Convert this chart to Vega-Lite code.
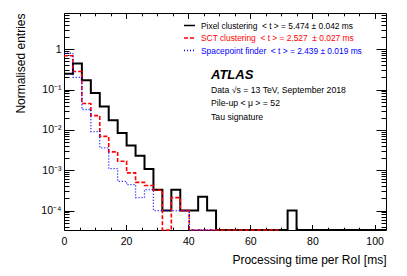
{
  "$schema": "https://vega.github.io/schema/vega-lite/v6.json",
  "width": 322,
  "height": 217,
  "autosize": {"type": "none"},
  "padding": {"left": 64, "top": 13, "right": 21, "bottom": 46},
  "background": "white",
  "config": {
    "view": {"stroke": "#000000", "strokeWidth": 1},
    "font": "Liberation Sans",
    "axis": {"labelFont": "Liberation Sans", "titleFont": "Liberation Sans", "labelColor": "#000000", "titleColor": "#000000", "tickColor": "#000000", "grid": false, "domain": false, "labelFlush": false, "labelOverlap": false, "titleFontWeight": "normal"}
  },
  "title": {
    "text": "ATLAS",
    "subtitle": ["Data √s = 13 TeV, September 2018", "Pile-up < μ > = 52", "Tau signature"],
    "anchor": "start",
    "frame": "group",
    "orient": "top",
    "offset": 0,
    "dx": 147,
    "dy": 109,
    "font": "Liberation Sans",
    "fontSize": 13,
    "fontStyle": "italic",
    "fontWeight": "bold",
    "color": "#000000",
    "subtitleFont": "Liberation Sans",
    "subtitleFontSize": 8.7,
    "subtitleColor": "#000000",
    "subtitlePadding": 4,
    "subtitleLineHeight": 13.6
  },
  "data": {
    "values": [
      {"s": "Pixel clustering", "t": 0, "v": 0.248},
      {"s": "Pixel clustering", "t": 2.88, "v": 0.445},
      {"s": "Pixel clustering", "t": 5.76, "v": 0.169},
      {"s": "Pixel clustering", "t": 8.64, "v": 0.082},
      {"s": "Pixel clustering", "t": 11.52, "v": 0.038},
      {"s": "Pixel clustering", "t": 14.4, "v": 0.0173},
      {"s": "Pixel clustering", "t": 17.28, "v": 0.0084},
      {"s": "Pixel clustering", "t": 20.16, "v": 0.0041},
      {"s": "Pixel clustering", "t": 23.04, "v": 0.0023},
      {"s": "Pixel clustering", "t": 25.92, "v": 0.00108},
      {"s": "Pixel clustering", "t": 28.8, "v": 0.00033},
      {"s": "Pixel clustering", "t": 31.68, "v": 0.0001},
      {"s": "Pixel clustering", "t": 34.56, "v": 0.00033},
      {"s": "Pixel clustering", "t": 37.44, "v": 0.0001},
      {"s": "Pixel clustering", "t": 40.32, "v": 0.0001},
      {"s": "Pixel clustering", "t": 43.2, "v": 0.00022},
      {"s": "Pixel clustering", "t": 46.08, "v": 0.0001},
      {"s": "Pixel clustering", "t": 48.96, "v": 0.000001},
      {"s": "Pixel clustering", "t": 72, "v": 0.0001},
      {"s": "Pixel clustering", "t": 74.88, "v": 0.000001},
      {"s": "Pixel clustering", "t": 103.68, "v": 0.000001},
      {"s": "SCT clustering", "t": 0, "v": 0.69},
      {"s": "SCT clustering", "t": 2.88, "v": 0.28},
      {"s": "SCT clustering", "t": 5.76, "v": 0.045},
      {"s": "SCT clustering", "t": 8.64, "v": 0.0226},
      {"s": "SCT clustering", "t": 11.52, "v": 0.0069},
      {"s": "SCT clustering", "t": 14.4, "v": 0.00285},
      {"s": "SCT clustering", "t": 17.28, "v": 0.00167},
      {"s": "SCT clustering", "t": 20.16, "v": 0.00086},
      {"s": "SCT clustering", "t": 23.04, "v": 0.0005},
      {"s": "SCT clustering", "t": 25.92, "v": 0.00042},
      {"s": "SCT clustering", "t": 28.8, "v": 0.00032},
      {"s": "SCT clustering", "t": 31.68, "v": 0.000001},
      {"s": "SCT clustering", "t": 34.56, "v": 0.00021},
      {"s": "SCT clustering", "t": 37.44, "v": 0.0001},
      {"s": "SCT clustering", "t": 40.32, "v": 0.000001},
      {"s": "SCT clustering", "t": 69.12, "v": 0.000001},
      {"s": "Spacepoint finder", "t": 0, "v": 0.8},
      {"s": "Spacepoint finder", "t": 2.88, "v": 0.2},
      {"s": "Spacepoint finder", "t": 5.76, "v": 0.032},
      {"s": "Spacepoint finder", "t": 8.64, "v": 0.0091},
      {"s": "Spacepoint finder", "t": 11.52, "v": 0.0036},
      {"s": "Spacepoint finder", "t": 14.4, "v": 0.0011},
      {"s": "Spacepoint finder", "t": 17.28, "v": 0.00053},
      {"s": "Spacepoint finder", "t": 20.16, "v": 0.00044},
      {"s": "Spacepoint finder", "t": 23.04, "v": 0.00021},
      {"s": "Spacepoint finder", "t": 25.92, "v": 0.00033},
      {"s": "Spacepoint finder", "t": 28.8, "v": 0.0001},
      {"s": "Spacepoint finder", "t": 31.68, "v": 0.0001},
      {"s": "Spacepoint finder", "t": 34.56, "v": 0.0001},
      {"s": "Spacepoint finder", "t": 37.44, "v": 0.0001},
      {"s": "Spacepoint finder", "t": 40.32, "v": 0.000001},
      {"s": "Spacepoint finder", "t": 48.96, "v": 0.000001}
    ]
  },
  "encoding": {
    "color": {
      "field": "s", "type": "nominal",
      "scale": {"domain": ["Pixel clustering", "SCT clustering", "Spacepoint finder"], "range": ["#000000", "#ff0000", "#0000ff"]},
      "legend": {
        "orient": "none", "legendX": 119, "legendY": 6, "title": null, "padding": 0,
        "symbolType": "stroke", "symbolSize": 121, "symbolStrokeWidth": 1.5,
        "labelFont": "Liberation Sans", "labelFontSize": 8.4, "labelOffset": 5, "rowPadding": 1.5, "labelLimit": 0,
        "labelExpr": "datum.value == 'Pixel clustering' ? 'Pixel clustering\u00a0\u00a0< t > = 5.474 ± 0.042 ms' : datum.value == 'SCT clustering' ? 'SCT clustering\u00a0\u00a0< t > = 2.527\u00a0\u00a0± 0.027 ms' : 'Spacepoint finder\u00a0\u00a0< t > = 2.439 ± 0.019 ms'",
        "labelColor": {"expr": "datum.value == 'Pixel clustering' ? '#000000' : datum.value == 'SCT clustering' ? '#ff0000' : '#0000ff'"}
      }
    },
    "strokeDash": {
      "field": "s", "type": "nominal",
      "scale": {"domain": ["Pixel clustering", "SCT clustering", "Spacepoint finder"], "range": [[1, 0], [4, 2], [1, 2]]},
      "legend": {
        "orient": "none", "legendX": 119, "legendY": 6, "title": null, "padding": 0,
        "symbolType": "stroke", "symbolSize": 121, "symbolStrokeWidth": 1.5,
        "labelFont": "Liberation Sans", "labelFontSize": 8.4, "labelOffset": 5, "rowPadding": 1.5, "labelLimit": 0,
        "labelExpr": "datum.value == 'Pixel clustering' ? 'Pixel clustering\u00a0\u00a0< t > = 5.474 ± 0.042 ms' : datum.value == 'SCT clustering' ? 'SCT clustering\u00a0\u00a0< t > = 2.527\u00a0\u00a0± 0.027 ms' : 'Spacepoint finder\u00a0\u00a0< t > = 2.439 ± 0.019 ms'",
        "labelColor": {"expr": "datum.value == 'Pixel clustering' ? '#000000' : datum.value == 'SCT clustering' ? '#ff0000' : '#0000ff'"}
      }
    }
  },
  "resolve": {"axis": {"x": "independent", "y": "independent"}},
  "layer": [
    {
      "transform": [{"filter": "datum.s == 'Pixel clustering'"}],
      "mark": {"type": "line", "interpolate": "step-after", "strokeWidth": 2},
      "encoding": {
        "x": {"field": "t", "type": "quantitative", "scale": {"domain": [0, 103.68], "nice": false, "zero": false},
          "axis": {"orient": "bottom", "values": [0, 20, 40, 60, 80, 100], "ticks": false, "labelFontSize": 10.5, "labelPadding": 6,
            "title": "Processing time per RoI [ms]", "titleAnchor": "end", "titleFontSize": 12, "titlePadding": 8}},
        "y": {"field": "v", "type": "quantitative", "scale": {"type": "log", "domain": [0.000033, 7.9], "nice": false, "clamp": true},
          "axis": {"orient": "left", "values": [1, 0.1, 0.01, 0.001, 0.0001], "ticks": false, "labelFontSize": 10.5, "labelPadding": 3,
            "labelExpr": "datum.value == 1 ? '1' : datum.value == 0.1 ? '10⁻¹' : datum.value == 0.01 ? '10⁻²' : datum.value == 0.001 ? '10⁻³' : '10⁻⁴'",
            "title": "Normalised entries", "titleAnchor": "end", "titleFontSize": 12, "titleX": -36.5}}
      }
    },
    {
      "transform": [{"filter": "datum.s == 'SCT clustering'"}],
      "mark": {"type": "line", "interpolate": "step-after", "strokeWidth": 1.6},
      "encoding": {
        "x": {"field": "t", "type": "quantitative",
          "axis": {"orient": "bottom", "values": [0, 5, 10, 15, 20, 25, 30, 35, 40, 45, 50, 55, 60, 65, 70, 75, 80, 85, 90, 95, 100], "labels": false, "title": null,
            "tickSize": {"condition": {"test": "datum.value % 20 == 0", "value": -5.5}, "value": -2.8}}},
        "y": {"field": "v", "type": "quantitative",
          "axis": {"orient": "left", "labels": false, "title": null,
            "values": [0.00004, 0.00005, 0.00006, 0.00007, 0.00008, 0.00009, 0.0001, 0.0002, 0.0003, 0.0004, 0.0005, 0.0006, 0.0007, 0.0008, 0.0009, 0.001, 0.002, 0.003, 0.004, 0.005, 0.006, 0.007, 0.008, 0.009, 0.01, 0.02, 0.03, 0.04, 0.05, 0.06, 0.07, 0.08, 0.09, 0.1, 0.2, 0.3, 0.4, 0.5, 0.6, 0.7, 0.8, 0.9, 1, 2, 3, 4, 5, 6, 7],
            "tickSize": {"condition": {"test": "abs(log(datum.value)/LN10 - round(log(datum.value)/LN10)) < 0.001", "value": -10}, "value": -5}}}
      }
    },
    {
      "transform": [{"filter": "datum.s == 'Spacepoint finder'"}],
      "mark": {"type": "line", "interpolate": "step-after", "strokeWidth": 1.3},
      "encoding": {
        "x": {"field": "t", "type": "quantitative",
          "axis": {"orient": "top", "values": [0, 5, 10, 15, 20, 25, 30, 35, 40, 45, 50, 55, 60, 65, 70, 75, 80, 85, 90, 95, 100], "labels": false, "title": null,
            "tickSize": {"condition": {"test": "datum.value % 20 == 0", "value": -5.5}, "value": -2.8}}},
        "y": {"field": "v", "type": "quantitative",
          "axis": {"orient": "right", "labels": false, "title": null,
            "values": [0.00004, 0.00005, 0.00006, 0.00007, 0.00008, 0.00009, 0.0001, 0.0002, 0.0003, 0.0004, 0.0005, 0.0006, 0.0007, 0.0008, 0.0009, 0.001, 0.002, 0.003, 0.004, 0.005, 0.006, 0.007, 0.008, 0.009, 0.01, 0.02, 0.03, 0.04, 0.05, 0.06, 0.07, 0.08, 0.09, 0.1, 0.2, 0.3, 0.4, 0.5, 0.6, 0.7, 0.8, 0.9, 1, 2, 3, 4, 5, 6, 7],
            "tickSize": {"condition": {"test": "abs(log(datum.value)/LN10 - round(log(datum.value)/LN10)) < 0.001", "value": -10}, "value": -5}}}
      }
    }
  ]
}
